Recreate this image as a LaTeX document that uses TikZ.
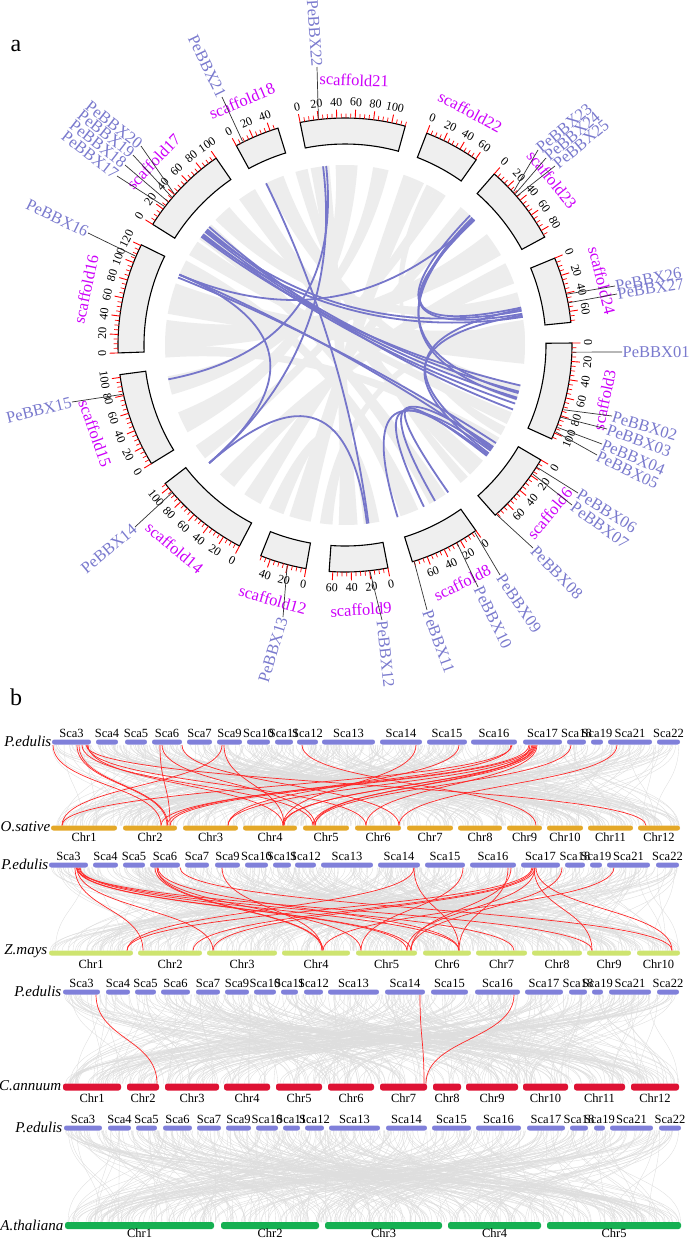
\documentclass[tikz,border=0pt]{standalone}
\usepackage{fontspec}
\setmainfont{Liberation Serif}
\definecolor{boxgray}{RGB}{239,239,239}
\definecolor{ribgray}{RGB}{237,237,237}
\definecolor{linkblue}{RGB}{118,118,202}
\definecolor{genecol}{RGB}{122,122,206}
\definecolor{scafcol}{RGB}{205,0,250}
\definecolor{tickred}{RGB}{255,0,0}
\definecolor{pedcol}{RGB}{128,128,218}
\definecolor{oscol}{RGB}{228,168,40}
\definecolor{zmcol}{RGB}{206,228,112}
\definecolor{cacol}{RGB}{222,18,52}
\definecolor{atcol}{RGB}{22,176,82}
\definecolor{synred}{RGB}{255,40,40}
\definecolor{syngray}{RGB}{222,222,222}
\tikzset{
  scaf/.style={text=scafcol, font=\fontsize{16.5}{18}\selectfont, inner sep=0pt},
  tlab/.style={font=\fontsize{12}{13}\selectfont, inner sep=0pt},
  gene/.style={text=genecol, font=\fontsize{16.5}{18}\selectfont, inner sep=0.4pt},
  leader/.style={draw=black!80, line width=0.7pt},
  bluelink/.style={draw=linkblue, line width=1.8pt},
  rowlab/.style={font=\itshape\fontsize{15}{16}\selectfont, inner sep=0.5pt, anchor=east},
  slab/.style={font=\fontsize{12.5}{13}\selectfont, inner sep=0pt},
  synbg/.style={draw=syngray, line width=0.35pt},
  synlink/.style={draw=synred, line width=0.7pt},
  panellab/.style={font=\fontsize{24}{26}\selectfont, inner sep=0pt}
}
\begin{document}
\begin{tikzpicture}[x=1pt,y=-1pt]
\useasboundingbox (0,0) rectangle (689,1239);
\fill[white] (0,0) rectangle (689,1239);

\node[panellab] (pa) at (16,46) {a};
\node[panellab] (pb) at (16,697) {b};

% ================= circos =================
\begin{scope}[shift={(345,345)}, y=1pt]
  % grey ribbons
  \foreach \aa/\ab/\ba/\bb in {95/101/-92/-86, 86/93/-158/-151, 76/81/-170/-164, 64/71/-108/-101,
     56/60/-146/-141, 45/50/-124/-118, 30/38/172/181, 20/27/-134/-128, 12/17/130/136,
     -6/6/160/170, -18/-13/110/116, -26/-22/145/150, -36/-31/-180/-176, -46/-40/120/126,
     -62/-56/138/144, -72/-66/152/157, -84/-79/-115/-110, 102/106/-50/-47, 3/8/-98/-94, 60/63/-30/-27}
  {
    \fill[ribgray] (\aa:180) arc[start angle=\aa, end angle=\ab, radius=180]
      .. controls (\ab:60) and (\ba:60) .. (\ba:180)
      arc[start angle=\ba, end angle=\bb, radius=180]
      .. controls (\bb:60) and (\aa:60) .. (\aa:180) -- cycle;
  }
  % blue links
  \foreach \p/\q in {116/-82.5, 96/-169, 97/-139, 140/-15, 141/-17, 142/-19, 139/-21, 143/-13,
     140.5/11, 142.5/9, 44/157, 45/-15.5, 44.5/-17.5, 46/10, 44/12, 11.5/-35.5, 9.5/-37,
     -73/-36, -64/-37.5, -60/-34.5, -55/-38, -139/-83, 157/-139, 157/-35, 158/-33}
  {
    \draw[bluelink] (\p:180) .. controls (\p:60) and (\q:60) .. (\q:180);
  }
  % scaffolds
  \foreach \nm/\st/\len in {3/0.5/107, 6/-30.4/78, 8/-54.8/77, 9/-79.1/64, 12/-99.9/51,
     14/-117.7/106, 15/-148.5/103, 16/-178/121, 17/-212.1/100, 18/-241.4/49,
     21/-258.6/115, 22/-291.1/61, 23/-311.1/88, 24/-337.5/72}
  {
    \pgfmathsetmacro\en{\st-\len*0.233}
    \draw[fill=boxgray, line width=1.1pt] (\st:201) arc[start angle=\st, end angle=\en, radius=201]
      -- (\en:227) arc[start angle=\en, end angle=\st, radius=227] -- cycle;
    \foreach \t in {0,5,...,\len}{
      \pgfmathsetmacro\ang{\st-\t*0.233}
      \pgfmathtruncatemacro\mj{mod(\t,20)==0 ? 1 : 0}
      \ifnum\mj=1
        \draw[tickred, line width=0.9pt] (\ang:227) -- (\ang:235.5);
        \pgfmathsetmacro\rr{sin(\ang)>=0 ? \ang-90 : \ang+90}
        \node[tlab, rotate=\rr] (tk\nm-\t) at (\ang:243) {\t};
      \else
        \draw[tickred, line width=0.7pt] (\ang:227) -- (\ang:231.5);
      \fi
    }
    \pgfmathsetmacro\md{(\st+\en)/2}
    \pgfmathsetmacro\mr{sin(\md)>=0 ? \md-90 : \md+90}
    \node[scaf, rotate=\mr] (sc\nm) at (\md:265) {scaffold\nm};
  }
  % gene anchor points
  \foreach \g/\ang in {01/-1.8, 02/-16.5, 03/-18.5, 04/-21.2, 05/-22.4, 06/-32.5, 07/-34.5,
     08/-48.2, 09/-55.3, 10/-60.5, 11/-72.3, 12/-83.7, 13/-104.7, 14/-139.5, 15/-167.5,
     16/157, 17/142.5, 18/141, 19/139.5, 20/138.5, 21/116.7, 22/96.7, 23/42.3, 24/41.6,
     25/40.9, 26/12.9, 27/10.7}
  { \coordinate (g\g) at (\ang:228); }
\end{scope}

% gene labels (right side)
\foreach \g/\x/\y/\r in {01/622/352/0, 02/612/416/-17, 03/607/429/-20, 04/602/444/-23,
   05/597/455/-26, 06/578/493/-32, 07/572/505/-36, 08/533/548/-46, 09/500/575/-56,
   10/478/587/-64, 11/427/610/-70, 12/382/620/-84, 23/538/150/40, 24/546/158/40,
   25/555/166/40, 26/615/286/11, 27/617/294/9}
{
  \node[gene, anchor=west, rotate=\r] (l\g) at (\x,\y) {PeBBX\g};
  \draw[leader] (g\g) -- (l\g.west);
}
% gene labels (left side)
\foreach \g/\x/\y/\r in {13/283/617/73, 14/135/527/40, 15/72/402/14, 16/88/233/-26,
   17/117/176/-38, 18/125/165/-38, 19/133/155/-38, 20/141/146/-38, 21/222/97/-64, 22/317/67/-86}
{
  \node[gene, anchor=east, rotate=\r] (l\g) at (\x,\y) {PeBBX\g};
  \draw[leader] (g\g) -- (l\g.east);
}

% ================= panel b =================
\pgfmathsetseed{7}
% background synteny meshes
\foreach \i in {1,...,420}{
  \pgfmathsetmacro\xa{52+628*rnd}\pgfmathsetmacro\xb{52+628*rnd}
  \draw[synbg] (\xa,745) .. controls (\xa,785) and (\xb,785) .. (\xb,825.5);
}
\foreach \i in {1,...,420}{
  \pgfmathsetmacro\xa{50+629*rnd}\pgfmathsetmacro\xb{50+630*rnd}
  \draw[synbg] (\xa,867.5) .. controls (\xa,909) and (\xb,909) .. (\xb,950.5);
}
\foreach \i in {1,...,380}{
  \pgfmathsetmacro\xa{63+616*rnd}\pgfmathsetmacro\xb{63+616*rnd}
  \draw[synbg] (\xa,994.5) .. controls (\xa,1039) and (\xb,1039) .. (\xb,1083.5);
}
\foreach \i in {1,...,380}{
  \pgfmathsetmacro\xa{64+617*rnd}\pgfmathsetmacro\xb{65+616*rnd}
  \draw[synbg] (\xa,1130.5) .. controls (\xa,1176) and (\xb,1176) .. (\xb,1222);
}

% red synteny links
\foreach \u/\v in {53/161, 77/167, 79/168, 82/313, 87/366, 88/283, 86/646, 160/170, 162/315,
   182/399, 222/62, 224/284, 302/536, 416/283, 459/228, 511/167, 512/62, 529/161, 532/170,
   534/284, 536/313, 537/366, 533/228, 571/315, 617/399, 530/315, 535/283}
{ \draw[synlink] (\u,745) .. controls (\u,785) and (\v,785) .. (\v,825.5); }
\foreach \u/\v in {75/143, 77/407, 78/411, 80/459, 76/592, 79/514, 155/322, 157/323, 158/459,
   180/672, 222/322, 414/459, 414/127, 463/361, 508/459, 511/411, 532/127, 533/193, 535/213,
   536/672, 534/592, 535/407, 562/411, 614/323, 157/361, 77/213}
{ \draw[synlink] (\u,867.5) .. controls (\u,909) and (\v,909) .. (\v,950.5); }
\foreach \u/\v in {96/157, 420/424, 514/426}
{ \draw[synlink] (\u,994.5) .. controls (\u,1039) and (\v,1039) .. (\v,1083.5); }

% panel 1: P.edulis vs O.sative
\node[rowlab] (r1a) at (52,741) {P.edulis};
\foreach \n/\xa/\xb in {3/52/91, 4/96/118, 5/125/147, 6/152/182, 7/187/212, 9/217/242, 10/247/270,
   11/275/293, 12/297/318, 13/322/375, 14/380/422, 15/427/467, 16/471/517, 17/523/562,
   18/567/586, 19/591/603, 21/608/652, 22/657/680}
{
  \fill[pedcol, rounded corners=2.4pt] (\xa,739.5) rectangle (\xb,744.5);
  \node[slab] (pa\n) at ({(\xa+\xb)/2},733) {Sca\n};
}
\node[rowlab] (r1b) at (51,827) {O.sative};
\foreach \n/\xa/\xb in {1/51/117, 2/123/177, 3/183/238, 4/243/297, 5/303/349, 6/355/401,
   7/407/453, 8/458/502, 9/507/542, 10/547/583, 11/588/633, 12/638/680}
{
  \fill[oscol, rounded corners=2.4pt] (\xa,825.5) rectangle (\xb,830.5);
  \node[slab] (os\n) at ({(\xa+\xb)/2},837) {Chr\n};
}

% panel 2: P.edulis vs Z.mays
\node[rowlab] (r2a) at (49,864) {P.edulis};
\foreach \n/\xa/\xb in {3/49/88, 4/93/118, 5/123/145, 6/150/180, 7/185/209, 9/215/240, 10/245/268,
   11/273/291, 12/295/316, 13/321/373, 14/378/420, 15/425/465, 16/470/516, 17/521/560,
   18/565/585, 19/590/602, 21/607/650, 22/656/679}
{
  \fill[pedcol, rounded corners=2.4pt] (\xa,862.5) rectangle (\xb,867.5);
  \node[slab] (pb\n) at ({(\xa+\xb)/2},856) {Sca\n};
}
\node[rowlab] (r2b) at (48,951) {Z.mays};
\foreach \n/\xa/\xb in {1/49/133, 2/138/202, 3/207/277, 4/282/350, 5/356/417, 6/423/471,
   7/476/527, 8/532/582, 9/587/631, 10/637/680}
{
  \fill[zmcol, rounded corners=2.4pt] (\xa,950.5) rectangle (\xb,955.5);
  \node[slab] (zm\n) at ({(\xa+\xb)/2},964) {Chr\n};
}

% panel 3: P.edulis vs C.annuum
\node[rowlab] (r3a) at (62,991) {P.edulis};
\foreach \n/\xa/\xb in {3/63/100, 4/106/130, 5/135/156, 6/161/190, 7/196/220, 9/225/249, 10/254/276,
   11/281/298, 12/304/323, 13/328/379, 14/385/425, 15/431/468, 16/475/520, 17/525/563,
   18/569/587, 19/592/603, 21/609/651, 22/657/679}
{
  \fill[pedcol, rounded corners=2.4pt] (\xa,989.5) rectangle (\xb,994.5);
  \node[slab] (pc\n) at ({(\xa+\xb)/2},983) {Sca\n};
}
\node[rowlab] (r3b) at (62,1086) {C.annuum};
\foreach \n/\xa/\xb in {1/63/121, 2/127/159, 3/165/219, 4/224/270, 5/276/322, 6/328/374,
   7/380/427, 8/433/461, 9/466/518, 10/523/568, 11/574/625, 12/631/679}
{
  \fill[cacol, rounded corners=2.5pt] (\xa,1083.5) rectangle (\xb,1090.5);
  \node[slab] (ca\n) at ({(\xa+\xb)/2},1098) {Chr\n};
}

% panel 4: P.edulis vs A.thaliana
\node[rowlab] (r4a) at (63,1127) {P.edulis};
\foreach \n/\xa/\xb in {3/64/102, 4/108/131, 5/136/157, 6/163/192, 7/197/221, 9/226/251, 10/256/278,
   11/283/300, 12/305/324, 13/329/380, 14/386/427, 15/432/471, 16/476/521, 17/527/565,
   18/570/588, 19/594/605, 21/610/653, 22/659/681}
{
  \fill[pedcol, rounded corners=2.4pt] (\xa,1125.5) rectangle (\xb,1130.5);
  \node[slab] (pd\n) at ({(\xa+\xb)/2},1119) {Sca\n};
}
\node[rowlab] (r4b) at (64,1225) {A.thaliana};
\foreach \n/\xa/\xb in {1/65/214, 2/221/319, 3/325/442, 4/448/541, 5/547/681}
{
  \fill[atcol, rounded corners=2.5pt] (\xa,1222) rectangle (\xb,1229);
  \node[slab] (at\n) at ({(\xa+\xb)/2},1233.5) {Chr\n};
}
\end{tikzpicture}
\end{document}
